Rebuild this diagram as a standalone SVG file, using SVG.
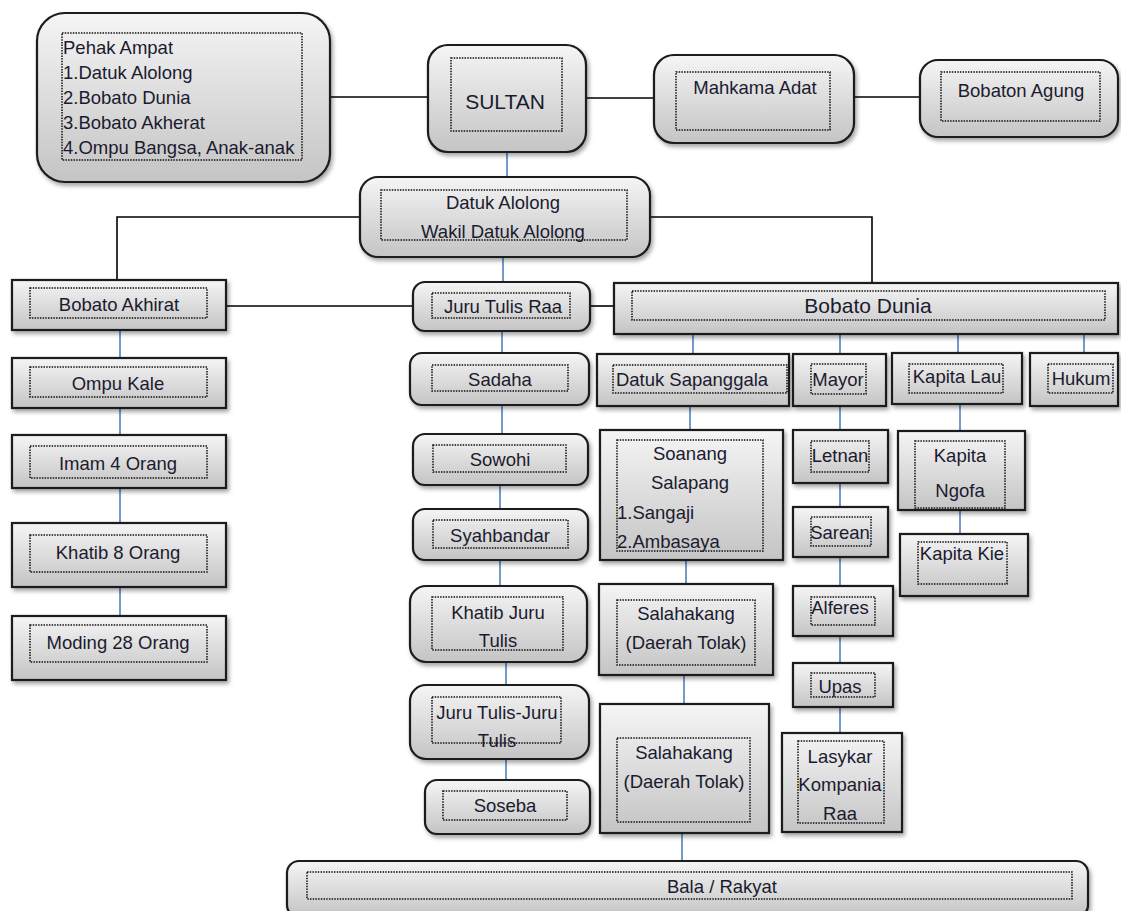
<svg xmlns="http://www.w3.org/2000/svg" width="1121" height="911" viewBox="0 0 1121 911">
<defs>
<linearGradient id="g" x1="0" y1="0" x2="0" y2="1">
<stop offset="0" stop-color="#f5f5f5"/>
<stop offset="1" stop-color="#c4c4c4"/>
</linearGradient>
<filter id="sh" x="-10%" y="-10%" width="130%" height="140%">
<feDropShadow dx="2" dy="3" stdDeviation="2" flood-color="#000" flood-opacity="0.35"/>
</filter>
</defs>
<style>
.box{fill:url(#g);stroke:#1a1a1a;stroke-width:2.2;filter:url(#sh)}
.in{fill:none;stroke:#111;stroke-width:1.5;stroke-dasharray:1.5 1.2}
.t{font-family:"Liberation Sans",Arial,sans-serif;font-size:18.5px;fill:#1b1b2f;text-anchor:middle;dominant-baseline:central}
.l{text-anchor:start}
.k{stroke:#000;stroke-width:1.6;fill:none}
.b{stroke:#4f81bd;stroke-width:1.6;fill:none}
</style>
<rect width="1121" height="911" fill="#fff"/>
<g id="connectors">
<line class="k" x1="330" y1="97" x2="428" y2="97"/>
<line class="k" x1="586" y1="98" x2="655" y2="98"/>
<line class="k" x1="855" y1="97" x2="920" y2="97"/>
<line class="b" x1="507" y1="152" x2="507" y2="177"/>
<polyline class="k" points="360,217 117,217 117,281"/>
<polyline class="k" points="650,217 872,217 872,284"/>
<line class="b" x1="503" y1="257" x2="503" y2="283"/>
<line class="k" x1="226" y1="306" x2="413" y2="306"/>
<line class="k" x1="590" y1="306" x2="614" y2="306"/>
<line class="b" x1="693" y1="334" x2="693" y2="354"/>
<line class="b" x1="840" y1="334" x2="840" y2="354"/>
<line class="b" x1="958" y1="334" x2="958" y2="353"/>
<line class="b" x1="1084" y1="334" x2="1084" y2="353"/>
<line class="b" x1="120" y1="330" x2="120" y2="358"/>
<line class="b" x1="120" y1="408" x2="120" y2="435"/>
<line class="b" x1="120" y1="488" x2="120" y2="523"/>
<line class="b" x1="120" y1="587" x2="120" y2="616"/>
<line class="b" x1="502" y1="331" x2="502" y2="353"/>
<line class="b" x1="502" y1="405" x2="502" y2="434"/>
<line class="b" x1="500" y1="485" x2="500" y2="509"/>
<line class="b" x1="500" y1="560" x2="500" y2="586"/>
<line class="b" x1="506" y1="662" x2="506" y2="685"/>
<line class="b" x1="506" y1="759" x2="506" y2="780"/>
<line class="b" x1="690" y1="406" x2="690" y2="430"/>
<line class="b" x1="686" y1="560" x2="686" y2="584"/>
<line class="b" x1="684" y1="675" x2="684" y2="704"/>
<line class="b" x1="682" y1="833" x2="682" y2="861"/>
<line class="b" x1="840" y1="406" x2="840" y2="430"/>
<line class="b" x1="840" y1="483" x2="840" y2="507"/>
<line class="b" x1="840" y1="557" x2="840" y2="586"/>
<line class="b" x1="840" y1="636" x2="840" y2="663"/>
<line class="b" x1="840" y1="707" x2="840" y2="733"/>
<line class="b" x1="960" y1="404" x2="960" y2="431"/>
<line class="b" x1="960" y1="510" x2="960" y2="534"/>
</g>
<g id="pehak-ampat">
<rect class="box" x="37" y="13" width="293" height="169" rx="28"/>
<rect class="in" x="62" y="33" width="240" height="127"/>
<text class="t l" x="63" y="47">Pehak Ampat</text>
<text class="t l" x="63" y="72">1.Datuk Alolong</text>
<text class="t l" x="63" y="97">2.Bobato Dunia</text>
<text class="t l" x="63" y="122">3.Bobato Akherat</text>
<text class="t l" x="63" y="147">4.Ompu Bangsa, Anak-anak</text>
</g>
<g id="sultan">
<rect class="box" x="428" y="45" width="158" height="107" rx="20"/>
<rect class="in" x="451" y="58" width="111" height="73"/>
<text class="t" x="505" y="101" style="font-size:21px">SULTAN</text>
</g>
<g id="mahkama-adat">
<rect class="box" x="654" y="55" width="200" height="88" rx="20"/>
<rect class="in" x="676" y="72" width="154" height="58"/>
<text class="t" x="755" y="87">Mahkama Adat</text>
</g>
<g id="bobaton-agung">
<rect class="box" x="920" y="60" width="198" height="77" rx="18"/>
<rect class="in" x="941" y="72" width="159" height="49"/>
<text class="t" x="1021" y="90">Bobaton Agung</text>
</g>
<g id="datuk-alolong">
<rect class="box" x="360" y="177" width="290" height="80" rx="18"/>
<rect class="in" x="381" y="190" width="246" height="50"/>
<text class="t" x="503" y="202">Datuk Alolong</text>
<text class="t" x="503" y="231">Wakil Datuk Alolong</text>
</g>
<g id="bobato-akhirat">
<rect class="box" x="12" y="280" width="214" height="50"/>
<rect class="in" x="30" y="288" width="177" height="30"/>
<text class="t" x="119" y="304">Bobato Akhirat</text>
</g>
<g id="juru-tulis-raa">
<rect class="box" x="413" y="282" width="177" height="49" rx="12"/>
<rect class="in" x="432" y="293" width="138" height="25"/>
<text class="t" x="503" y="306">Juru Tulis Raa</text>
</g>
<g id="bobato-dunia">
<rect class="box" x="614" y="283" width="504" height="51"/>
<rect class="in" x="632" y="291" width="473" height="29"/>
<text class="t" x="868" y="305" style="font-size:21px">Bobato Dunia</text>
</g>
<g id="ompu-kale">
<rect class="box" x="12" y="358" width="214" height="50"/>
<rect class="in" x="30" y="367" width="177" height="30"/>
<text class="t" x="118" y="383">Ompu Kale</text>
</g>
<g id="imam">
<rect class="box" x="12" y="435" width="214" height="53"/>
<rect class="in" x="30" y="446" width="177" height="32"/>
<text class="t" x="118" y="463">Imam  4 Orang</text>
</g>
<g id="khatib">
<rect class="box" x="12" y="523" width="214" height="64"/>
<rect class="in" x="30" y="535" width="177" height="37"/>
<text class="t" x="118" y="552">Khatib 8 Orang</text>
</g>
<g id="moding">
<rect class="box" x="12" y="616" width="214" height="64"/>
<rect class="in" x="30" y="625" width="177" height="37"/>
<text class="t" x="118" y="642">Moding 28 Orang</text>
</g>
<g id="sadaha">
<rect class="box" x="410" y="353" width="179" height="52" rx="12"/>
<rect class="in" x="432" y="365" width="136" height="26"/>
<text class="t" x="500" y="379">Sadaha</text>
</g>
<g id="sowohi">
<rect class="box" x="413" y="434" width="175" height="51" rx="12"/>
<rect class="in" x="433" y="445" width="133" height="27"/>
<text class="t" x="500" y="459">Sowohi</text>
</g>
<g id="syahbandar">
<rect class="box" x="413" y="509" width="175" height="51" rx="12"/>
<rect class="in" x="433" y="520" width="135" height="28"/>
<text class="t" x="500" y="535">Syahbandar</text>
</g>
<g id="khatib-juru-tulis">
<rect class="box" x="410" y="586" width="177" height="76" rx="16"/>
<rect class="in" x="432" y="597" width="131" height="53"/>
<text class="t" x="498" y="612">Khatib Juru</text>
<text class="t" x="498" y="640">Tulis</text>
</g>
<g id="juru-tulis-juru-tulis">
<rect class="box" x="410" y="685" width="179" height="74" rx="16"/>
<rect class="in" x="432" y="697" width="129" height="46"/>
<text class="t" x="497" y="712">Juru Tulis-Juru</text>
<text class="t" x="497" y="740">Tulis</text>
</g>
<g id="soseba">
<rect class="box" x="425" y="780" width="165" height="54" rx="12"/>
<rect class="in" x="443" y="791" width="124" height="29"/>
<text class="t" x="505" y="805">Soseba</text>
</g>
<g id="datuk-sapanggala">
<rect class="box" x="597" y="354" width="192" height="52"/>
<rect class="in" x="613" y="365" width="174" height="28"/>
<text class="t" x="692" y="379">Datuk Sapanggala</text>
</g>
<g id="soanang-salapang">
<rect class="box" x="600" y="430" width="183" height="130"/>
<rect class="in" x="617" y="440" width="146" height="111"/>
<text class="t" x="690" y="453">Soanang</text>
<text class="t" x="690" y="482">Salapang</text>
<text class="t l" x="617" y="512">1.Sangaji</text>
<text class="t l" x="617" y="541">2.Ambasaya</text>
</g>
<g id="salahakang-1">
<rect class="box" x="599" y="584" width="174" height="91"/>
<rect class="in" x="617" y="600" width="138" height="65"/>
<text class="t" x="686" y="613">Salahakang</text>
<text class="t" x="686" y="642">(Daerah Tolak)</text>
</g>
<g id="salahakang-2">
<rect class="box" x="600" y="704" width="169" height="129"/>
<rect class="in" x="617" y="738" width="133" height="84"/>
<text class="t" x="684" y="752">Salahakang</text>
<text class="t" x="684" y="781">(Daerah Tolak)</text>
</g>
<g id="mayor">
<rect class="box" x="793" y="354" width="93" height="52"/>
<rect class="in" x="811" y="364" width="55" height="30"/>
<text class="t" x="838" y="379">Mayor</text>
</g>
<g id="letnan">
<rect class="box" x="793" y="430" width="95" height="53"/>
<rect class="in" x="811" y="441" width="58" height="31"/>
<text class="t" x="840" y="455">Letnan</text>
</g>
<g id="sarean">
<rect class="box" x="793" y="507" width="95" height="50"/>
<rect class="in" x="811" y="517" width="60" height="29"/>
<text class="t" x="840" y="532">Sarean</text>
</g>
<g id="alferes">
<rect class="box" x="793" y="586" width="100" height="50"/>
<rect class="in" x="811" y="597" width="64" height="28"/>
<text class="t" x="840" y="607">Alferes</text>
</g>
<g id="upas">
<rect class="box" x="793" y="663" width="100" height="44"/>
<rect class="in" x="811" y="673" width="64" height="24"/>
<text class="t" x="840" y="686">Upas</text>
</g>
<g id="lasykar">
<rect class="box" x="782" y="733" width="120" height="99"/>
<rect class="in" x="798" y="741" width="86" height="82"/>
<text class="t" x="840" y="756">Lasykar</text>
<text class="t" x="840" y="784">Kompania</text>
<text class="t" x="840" y="813">Raa</text>
</g>
<g id="kapita-lau">
<rect class="box" x="892" y="353" width="130" height="51"/>
<rect class="in" x="909" y="364" width="94" height="29"/>
<text class="t" x="957" y="376">Kapita Lau</text>
</g>
<g id="kapita-ngofa">
<rect class="box" x="898" y="431" width="127" height="79"/>
<rect class="in" x="915" y="441" width="90" height="67"/>
<text class="t" x="960" y="455">Kapita</text>
<text class="t" x="960" y="490">Ngofa</text>
</g>
<g id="kapita-kie">
<rect class="box" x="900" y="534" width="128" height="62"/>
<rect class="in" x="918" y="542" width="89" height="42"/>
<text class="t" x="962" y="553">Kapita Kie</text>
</g>
<g id="hukum">
<rect class="box" x="1030" y="353" width="88" height="53"/>
<rect class="in" x="1048" y="364" width="65" height="29"/>
<text class="t" x="1081" y="378">Hukum</text>
</g>
<g id="bala-rakyat">
<rect class="box" x="287" y="861" width="801" height="56" rx="12"/>
<rect class="in" x="307" y="872" width="765" height="27"/>
<text class="t" x="722" y="886">Bala / Rakyat</text>
</g>
</svg>
